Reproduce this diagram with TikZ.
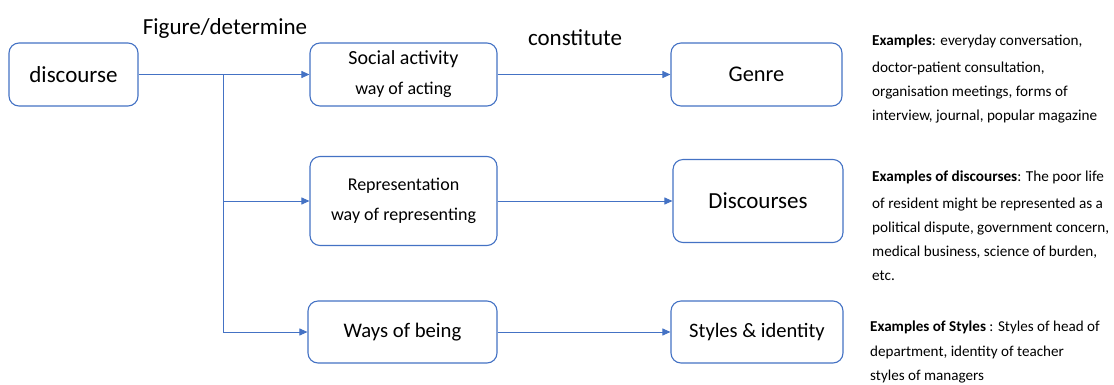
\documentclass[tikz,border=0pt]{standalone}
\usepackage{fontspec}
\setmainfont{Carlito}
\usetikzlibrary{arrows.meta}
\definecolor{boxblue}{HTML}{4472C4}
\begin{document}
\begin{tikzpicture}[x=1pt,y=-1pt,
  box/.style={draw=boxblue, line width=1.1pt, rounded corners=10pt, fill=white,
    align=center, inner sep=2pt},
  link/.style={draw=boxblue, line width=0.9pt, -{Triangle[length=8pt,width=7pt]}},
  note/.style={align=left, anchor=north west, inner sep=0pt, font=\fontsize{15.2}{24}\selectfont},
  tag/.style={font=\fontsize{23}{27}\selectfont}]
\useasboundingbox (0,0) rectangle (1114,384);

% boxes
\node[box, minimum width=129pt, minimum height=63pt, font=\fontsize{23}{27}\selectfont] (disc) at (73.5,74.5) {discourse};
\node[box, minimum width=187pt, minimum height=63pt, font=\fontsize{20}{24}\selectfont] (soc) at (403.5,74.5) {Social activity\\[6pt]{\fontsize{18}{24}\selectfont way of acting}};
\node[box, minimum width=171pt, minimum height=63pt, font=\fontsize{22.4}{26}\selectfont] (genre) at (756.5,74.5) {Genre};
\node[box, minimum width=187pt, minimum height=89pt, font=\fontsize{18}{24}\selectfont] (rep) at (403.5,201) {Representation\\[6pt]way of representing};
\node[box, minimum width=170pt, minimum height=83pt, font=\fontsize{23}{27}\selectfont] (discs) at (758,201) {Discourses};
\node[box, minimum width=189pt, minimum height=62pt, font=\fontsize{20.7}{24}\selectfont] (ways) at (402.5,332) {Ways of being};
\node[box, minimum width=172pt, minimum height=62pt, font=\fontsize{20.5}{24}\selectfont] (styles) at (757,332) {Styles \& identity};

% connector labels
\node[tag] (fig) at (225,28) {Figure/determine};
\node[tag] (con) at (575,38) {constitute};

% connectors
\coordinate (br) at (223,74.5);
\draw[link] (disc.east) -- (soc.west);
\draw[link] (br) |- (rep.west);
\draw[link] (br) |- (ways.west);
\draw[link] (soc.east) -- (genre.west);
\draw[link] (rep.east) -- (discs.west);
\draw[link] (ways.east) -- (styles.west);

% example notes
\node[note] (n1) at (872,35) {\textbf{Examples}: everyday conversation,\\[3pt]doctor-patient consultation,\\organisation meetings, forms of\\interview, journal, popular magazine};
\node[note] (n2) at (872,171) {\textbf{Examples of discourses}: The poor life\\[3pt]of resident might be represented as a\\political dispute, government concern,\\medical business, science of burden,\\etc.};
\node[note, font=\fontsize{15.1}{24.5}\selectfont] (n3) at (870,321) {\textbf{Examples of Styles} : Styles of head of\\department, identity of teacher\\styles of managers};
\end{tikzpicture}
\end{document}
